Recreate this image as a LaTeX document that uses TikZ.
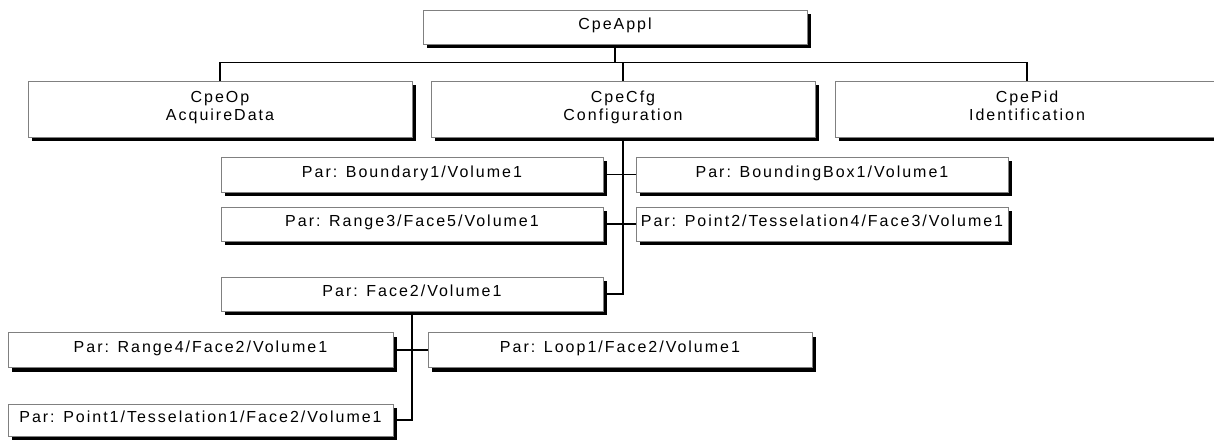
\documentclass[tikz,border=0pt]{standalone}
\usepackage{fontspec}
\setmainfont{Liberation Sans}[LetterSpace=12.5]
\usetikzlibrary{shadows,backgrounds}
\tikzset{
  box/.style={draw=black!50, line width=0.9pt, fill=white, inner sep=0pt,
    align=center, font=\fontsize{16}{18}\selectfont, text height=12pt, text depth=7pt,
    drop shadow={shadow xshift=4pt, shadow yshift=-4pt, opacity=1, fill=black}},
  twoline/.style={box, text height=30pt, text depth=7pt},
  conn/.style={draw=black, line width=1.3pt}
}
\begin{document}
\begin{tikzpicture}[x=1pt,y=-1pt]
\useasboundingbox (0,0) rectangle (1214,439);
% top
\node[box, minimum width=384pt, minimum height=34pt] (appl) at (615,27) {CpeAppl};
\node[twoline, minimum width=384pt, minimum height=56pt] (op) at (220,109) {CpeOp\\AcquireData};
\node[twoline, minimum width=384pt, minimum height=56pt] (cfg) at (623,109) {CpeCfg\\Configuration};
\node[twoline, minimum width=384pt, minimum height=56pt] (pid) at (1027,109) {CpePid\\Identification};
% cfg children
\node[box, minimum width=382pt, minimum height=35pt] (bnd) at (412,174.5) {Par: Boundary1/Volume1};
\node[box, minimum width=372pt, minimum height=35pt] (bbx) at (822,174.5) {Par: BoundingBox1/Volume1};
\node[box, minimum width=382pt, minimum height=34pt] (rg3) at (412,224) {Par: Range3/Face5/Volume1};
\node[box, minimum width=372pt, minimum height=34pt] (pt2) at (822,224) {Par: Point2/Tesselation4/Face3/Volume1};
\node[box, minimum width=382pt, minimum height=34pt] (fc2) at (412,294) {Par: Face2/Volume1};
% face2 children
\node[box, minimum width=385pt, minimum height=35pt] (rg4) at (200.5,350) {Par: Range4/Face2/Volume1};
\node[box, minimum width=384pt, minimum height=35pt] (lp1) at (620,350) {Par: Loop1/Face2/Volume1};
\node[box, minimum width=385pt, minimum height=32pt] (pt1) at (200.5,420) {Par: Point1/Tesselation1/Face2/Volume1};
\begin{scope}[on background layer]
  \draw[conn] (appl.south) -- ++(0,19) coordinate (busa);
  \draw[conn] (op.north) -- ++(0,-18) -| (pid.north);
  \draw[conn] (cfg.north) -- ++(0,-18);
  \draw[conn] (cfg.south) |- (fc2.east);
  \draw[conn] (bnd.east) -- (bbx.west);
  \draw[conn] (rg3.east) -- (pt2.west);
  \draw[conn] (fc2.south) |- (pt1.east);
  \draw[conn] (rg4.east) -- (lp1.west);
\end{scope}
\end{tikzpicture}
\end{document}
